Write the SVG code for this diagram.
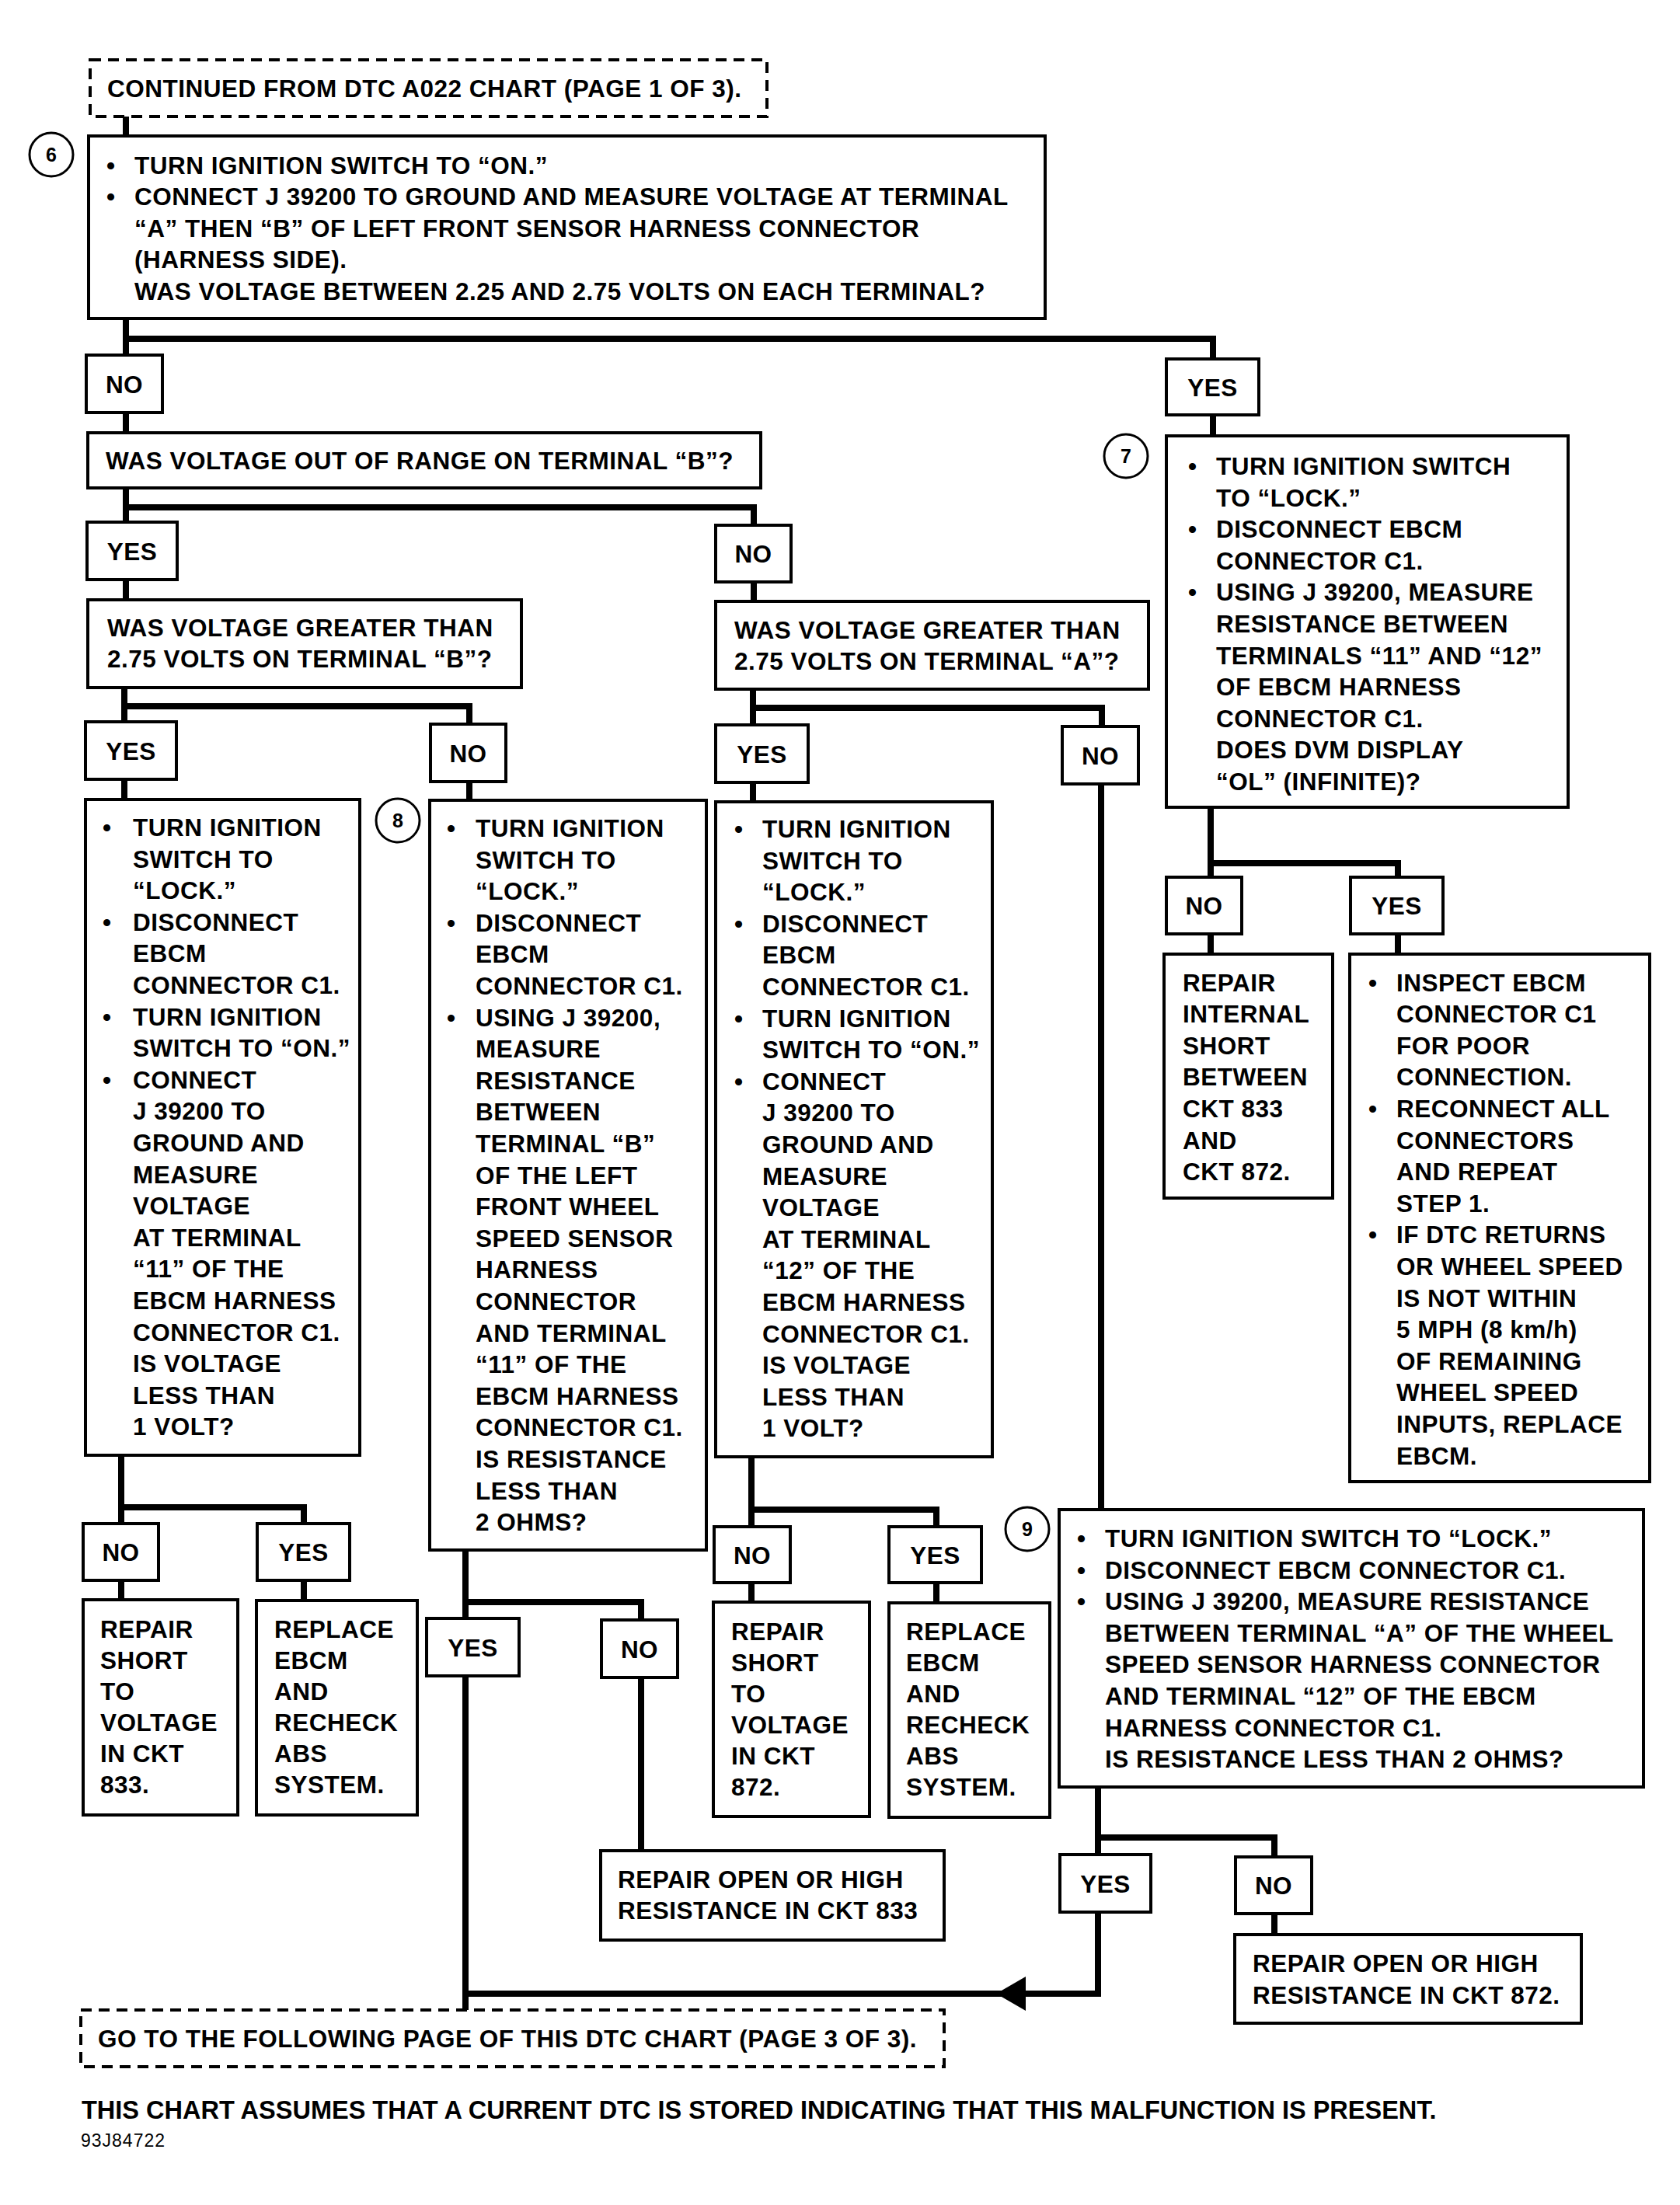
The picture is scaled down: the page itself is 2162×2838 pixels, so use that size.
<svg xmlns="http://www.w3.org/2000/svg" width="2162" height="2838" viewBox="0 0 2162 2838">
<defs>
<style>
.box{fill:#fff;stroke:#000;stroke-width:4}
.dash{fill:#fff;stroke:#000;stroke-width:4;stroke-dasharray:14 9}
.conn path{fill:none;stroke:#000;stroke-width:8;stroke-linejoin:miter}
text{font-family:"Liberation Sans",Arial,Helvetica,sans-serif;font-weight:bold;font-size:31.5px;letter-spacing:0.5px;fill:#000}
.lbl{text-anchor:middle}
.num{font-weight:bold;font-size:25px;letter-spacing:0;text-anchor:middle}
.circ{fill:#fff;stroke:#000;stroke-width:3}
.foot{font-size:32.5px;letter-spacing:0}
.small{font-weight:normal;font-size:23px;letter-spacing:1px}
</style>
<marker id="arr" markerUnits="userSpaceOnUse" markerWidth="40" markerHeight="44" refX="38" refY="22" orient="auto">
<path d="M0 0 L38 22 L0 44 Z" fill="#000"/>
</marker>
</defs>
<rect width="2162" height="2838" fill="#fff"/>

<g id="connectors" class="conn">
<path d="M162 150 V175"/>
<path d="M162 410 V456"/>
<path d="M162 436 H1561 V462"/>
<path d="M1561 534 V561"/>
<path d="M162 531 V557"/>
<path d="M162 628 V672"/>
<path d="M162 653 H970 V676"/>
<path d="M162 746 V772"/>
<path d="M970 749 V774"/>
<path d="M160 885 V929"/>
<path d="M160 909 H604 V932"/>
<path d="M160 1003 V1029"/>
<path d="M604 1006 V1030"/>
<path d="M969 887 V933"/>
<path d="M969 911 H1418 V935"/>
<path d="M969 1007 V1032"/>
<path d="M1417 1009 V1943"/>
<path d="M1558 1039 V1129"/>
<path d="M1558 1111 H1799 V1129"/>
<path d="M1558 1202 V1228"/>
<path d="M1799 1202 V1228"/>
<path d="M156 1873 V1961"/>
<path d="M156 1940 H391 V1961"/>
<path d="M156 2034 V2059"/>
<path d="M391 2034 V2060"/>
<path d="M599 1995 V2083"/>
<path d="M599 2062 H825 V2085"/>
<path d="M599 2157 V2587"/>
<path d="M825 2159 V2382"/>
<path d="M967 1875 V1965"/>
<path d="M967 1943 H1205 V1965"/>
<path d="M967 2037 V2062"/>
<path d="M1205 2037 V2063"/>
<path d="M1413 2300 V2387"/>
<path d="M1413 2365 H1640 V2390"/>
<path d="M1640 2463 V2490"/>
<path d="M1413 2461 V2566 H596"/>
<path d="M1413 2566 H1282" marker-end="url(#arr)"/>
</g>

<g id="start">
<rect class="dash" x="116" y="77" width="871" height="73"/>
<text x="138" y="125">CONTINUED FROM DTC A022 CHART (PAGE 1 OF 3).</text>
</g>

<g id="step6">
<circle class="circ" cx="66" cy="199" r="28"/>
<text class="num" x="66" y="208">6</text>
<rect class="box" x="114" y="175" width="1231" height="235"/>
<text x="137" y="223.5">•</text><text x="173" y="223.5">TURN IGNITION SWITCH TO “ON.”</text>
<text x="137" y="264">•</text><text x="173" y="264">CONNECT J 39200 TO GROUND AND MEASURE VOLTAGE AT TERMINAL</text>
<text x="173" y="304.5">“A” THEN “B” OF LEFT FRONT SENSOR HARNESS CONNECTOR</text>
<text x="173" y="345">(HARNESS SIDE).</text>
<text x="173" y="385.5">WAS VOLTAGE BETWEEN 2.25 AND 2.75 VOLTS ON EACH TERMINAL?</text>
</g>

<g id="no1"><rect class="box" x="111" y="457" width="98" height="74"/><text class="lbl" x="160" y="505.5">NO</text></g>
<g id="yes1"><rect class="box" x="1501" y="462" width="119" height="72"/><text class="lbl" x="1560.5" y="509.5">YES</text></g>

<g id="q_range">
<rect class="box" x="113" y="557" width="866" height="71"/>
<text x="136" y="604">WAS VOLTAGE OUT OF RANGE ON TERMINAL “B”?</text>
</g>

<g id="yes2"><rect class="box" x="112" y="672" width="116" height="74"/><text class="lbl" x="170" y="720.5">YES</text></g>
<g id="no2"><rect class="box" x="921" y="676" width="97" height="73"/><text class="lbl" x="969.5" y="724">NO</text></g>

<g id="q_b">
<rect class="box" x="113" y="772" width="558" height="113"/>
<text x="138" y="819">WAS VOLTAGE GREATER THAN</text>
<text x="138" y="859">2.75 VOLTS ON TERMINAL “B”?</text>
</g>

<g id="q_a">
<rect class="box" x="921" y="774" width="557" height="113"/>
<text x="945" y="822">WAS VOLTAGE GREATER THAN</text>
<text x="945" y="862">2.75 VOLTS ON TERMINAL “A”?</text>
</g>

<g id="step7">
<circle class="circ" cx="1449" cy="587" r="28"/>
<text class="num" x="1449" y="596">7</text>
<rect class="box" x="1501" y="561" width="517" height="478"/>
<text x="1529" y="611">•</text><text x="1565" y="611">TURN IGNITION SWITCH</text>
<text x="1565" y="651.6">TO “LOCK.”</text>
<text x="1529" y="692.2">•</text><text x="1565" y="692.2">DISCONNECT EBCM</text>
<text x="1565" y="732.8">CONNECTOR C1.</text>
<text x="1529" y="773.4">•</text><text x="1565" y="773.4">USING J 39200, MEASURE</text>
<text x="1565" y="814">RESISTANCE BETWEEN</text>
<text x="1565" y="854.6">TERMINALS “11” AND “12”</text>
<text x="1565" y="895.2">OF EBCM HARNESS</text>
<text x="1565" y="935.8">CONNECTOR C1.</text>
<text x="1565" y="976.4">DOES DVM DISPLAY</text>
<text x="1565" y="1017">“OL” (INFINITE)?</text>
</g>

<g id="yes3"><rect class="box" x="110" y="929" width="117" height="74"/><text class="lbl" x="168.5" y="977.5">YES</text></g>
<g id="no3"><rect class="box" x="554" y="932" width="97" height="74"/><text class="lbl" x="602.5" y="980.5">NO</text></g>
<g id="yes4"><rect class="box" x="921" y="933" width="119" height="74"/><text class="lbl" x="980.5" y="981.5">YES</text></g>
<g id="no4"><rect class="box" x="1367" y="935" width="98" height="74"/><text class="lbl" x="1416" y="983.5">NO</text></g>

<g id="check_b_short">
<rect class="box" x="110" y="1029" width="353" height="844"/>
<text x="132" y="1076">•</text><text x="171" y="1076">TURN IGNITION</text>
<text x="171" y="1116.6">SWITCH TO</text>
<text x="171" y="1157.2">“LOCK.”</text>
<text x="132" y="1197.8">•</text><text x="171" y="1197.8">DISCONNECT</text>
<text x="171" y="1238.4">EBCM</text>
<text x="171" y="1279">CONNECTOR C1.</text>
<text x="132" y="1319.6">•</text><text x="171" y="1319.6">TURN IGNITION</text>
<text x="171" y="1360.2">SWITCH TO “ON.”</text>
<text x="132" y="1400.8">•</text><text x="171" y="1400.8">CONNECT</text>
<text x="171" y="1441.4">J 39200 TO</text>
<text x="171" y="1482">GROUND AND</text>
<text x="171" y="1522.6">MEASURE</text>
<text x="171" y="1563.2">VOLTAGE</text>
<text x="171" y="1603.8">AT TERMINAL</text>
<text x="171" y="1644.4">“11” OF THE</text>
<text x="171" y="1685">EBCM HARNESS</text>
<text x="171" y="1725.6">CONNECTOR C1.</text>
<text x="171" y="1766.2">IS VOLTAGE</text>
<text x="171" y="1806.8">LESS THAN</text>
<text x="171" y="1847.4">1 VOLT?</text>
</g>

<g id="step8">
<circle class="circ" cx="512" cy="1056" r="28"/>
<text class="num" x="512" y="1065">8</text>
<rect class="box" x="553" y="1030" width="356" height="965"/>
<text x="575" y="1077">•</text><text x="612" y="1077">TURN IGNITION</text>
<text x="612" y="1117.6">SWITCH TO</text>
<text x="612" y="1158.2">“LOCK.”</text>
<text x="575" y="1198.8">•</text><text x="612" y="1198.8">DISCONNECT</text>
<text x="612" y="1239.4">EBCM</text>
<text x="612" y="1280">CONNECTOR C1.</text>
<text x="575" y="1320.6">•</text><text x="612" y="1320.6">USING J 39200,</text>
<text x="612" y="1361.2">MEASURE</text>
<text x="612" y="1401.8">RESISTANCE</text>
<text x="612" y="1442.4">BETWEEN</text>
<text x="612" y="1483">TERMINAL “B”</text>
<text x="612" y="1523.6">OF THE LEFT</text>
<text x="612" y="1564.2">FRONT WHEEL</text>
<text x="612" y="1604.8">SPEED SENSOR</text>
<text x="612" y="1645.4">HARNESS</text>
<text x="612" y="1686">CONNECTOR</text>
<text x="612" y="1726.6">AND TERMINAL</text>
<text x="612" y="1767.2">“11” OF THE</text>
<text x="612" y="1807.8">EBCM HARNESS</text>
<text x="612" y="1848.4">CONNECTOR C1.</text>
<text x="612" y="1889">IS RESISTANCE</text>
<text x="612" y="1929.6">LESS THAN</text>
<text x="612" y="1970.2">2 OHMS?</text>
</g>

<g id="check_a_short">
<rect class="box" x="921" y="1032" width="356" height="843"/>
<text x="945" y="1078">•</text><text x="981" y="1078">TURN IGNITION</text>
<text x="981" y="1118.6">SWITCH TO</text>
<text x="981" y="1159.2">“LOCK.”</text>
<text x="945" y="1199.8">•</text><text x="981" y="1199.8">DISCONNECT</text>
<text x="981" y="1240.4">EBCM</text>
<text x="981" y="1281">CONNECTOR C1.</text>
<text x="945" y="1321.6">•</text><text x="981" y="1321.6">TURN IGNITION</text>
<text x="981" y="1362.2">SWITCH TO “ON.”</text>
<text x="945" y="1402.8">•</text><text x="981" y="1402.8">CONNECT</text>
<text x="981" y="1443.4">J 39200 TO</text>
<text x="981" y="1484">GROUND AND</text>
<text x="981" y="1524.6">MEASURE</text>
<text x="981" y="1565.2">VOLTAGE</text>
<text x="981" y="1605.8">AT TERMINAL</text>
<text x="981" y="1646.4">“12” OF THE</text>
<text x="981" y="1687">EBCM HARNESS</text>
<text x="981" y="1727.6">CONNECTOR C1.</text>
<text x="981" y="1768.2">IS VOLTAGE</text>
<text x="981" y="1808.8">LESS THAN</text>
<text x="981" y="1849.4">1 VOLT?</text>
</g>

<g id="no5"><rect class="box" x="1501" y="1129" width="97" height="73"/><text class="lbl" x="1549.5" y="1177">NO</text></g>
<g id="yes5"><rect class="box" x="1738" y="1129" width="119" height="73"/><text class="lbl" x="1797.5" y="1177">YES</text></g>

<g id="repair_internal">
<rect class="box" x="1498" y="1228" width="217" height="314"/>
<text x="1522" y="1275.5">REPAIR</text>
<text x="1522" y="1316.1">INTERNAL</text>
<text x="1522" y="1356.7">SHORT</text>
<text x="1522" y="1397.3">BETWEEN</text>
<text x="1522" y="1437.9">CKT 833</text>
<text x="1522" y="1478.5">AND</text>
<text x="1522" y="1519.1">CKT 872.</text>
</g>

<g id="inspect">
<rect class="box" x="1737" y="1228" width="386" height="679"/>
<text x="1761" y="1275.5">•</text><text x="1797" y="1275.5">INSPECT EBCM</text>
<text x="1797" y="1316.1">CONNECTOR C1</text>
<text x="1797" y="1356.7">FOR POOR</text>
<text x="1797" y="1397.3">CONNECTION.</text>
<text x="1761" y="1437.9">•</text><text x="1797" y="1437.9">RECONNECT ALL</text>
<text x="1797" y="1478.5">CONNECTORS</text>
<text x="1797" y="1519.1">AND REPEAT</text>
<text x="1797" y="1559.7">STEP 1.</text>
<text x="1761" y="1600.3">•</text><text x="1797" y="1600.3">IF DTC RETURNS</text>
<text x="1797" y="1640.9">OR WHEEL SPEED</text>
<text x="1797" y="1681.5">IS NOT WITHIN</text>
<text x="1797" y="1722.1">5 MPH (8 km/h)</text>
<text x="1797" y="1762.7">OF REMAINING</text>
<text x="1797" y="1803.3">WHEEL SPEED</text>
<text x="1797" y="1843.9">INPUTS, REPLACE</text>
<text x="1797" y="1884.5">EBCM.</text>
</g>

<g id="no6"><rect class="box" x="107" y="1961" width="97" height="73"/><text class="lbl" x="155.5" y="2009">NO</text></g>
<g id="yes6"><rect class="box" x="331" y="1961" width="119" height="73"/><text class="lbl" x="390.5" y="2009">YES</text></g>

<g id="repair_833_short">
<rect class="box" x="107" y="2059" width="199" height="277"/>
<text x="129" y="2108">REPAIR</text>
<text x="129" y="2148">SHORT</text>
<text x="129" y="2188">TO</text>
<text x="129" y="2228">VOLTAGE</text>
<text x="129" y="2268">IN CKT</text>
<text x="129" y="2308">833.</text>
</g>

<g id="replace_1">
<rect class="box" x="330" y="2060" width="207" height="276"/>
<text x="353" y="2108">REPLACE</text>
<text x="353" y="2148">EBCM</text>
<text x="353" y="2188">AND</text>
<text x="353" y="2228">RECHECK</text>
<text x="353" y="2268">ABS</text>
<text x="353" y="2308">SYSTEM.</text>
</g>

<g id="yes7"><rect class="box" x="549" y="2083" width="119" height="74"/><text class="lbl" x="608.5" y="2131.5">YES</text></g>
<g id="no7"><rect class="box" x="774" y="2085" width="98" height="74"/><text class="lbl" x="823" y="2133.5">NO</text></g>

<g id="no8"><rect class="box" x="919" y="1965" width="98" height="72"/><text class="lbl" x="968" y="2012.5">NO</text></g>
<g id="yes8"><rect class="box" x="1144" y="1965" width="119" height="72"/><text class="lbl" x="1203.5" y="2012.5">YES</text></g>

<g id="repair_872_short">
<rect class="box" x="918" y="2062" width="201" height="276"/>
<text x="941" y="2111">REPAIR</text>
<text x="941" y="2151">SHORT</text>
<text x="941" y="2191">TO</text>
<text x="941" y="2231">VOLTAGE</text>
<text x="941" y="2271">IN CKT</text>
<text x="941" y="2311">872.</text>
</g>

<g id="replace_2">
<rect class="box" x="1144" y="2063" width="207" height="276"/>
<text x="1166" y="2111">REPLACE</text>
<text x="1166" y="2151">EBCM</text>
<text x="1166" y="2191">AND</text>
<text x="1166" y="2231">RECHECK</text>
<text x="1166" y="2271">ABS</text>
<text x="1166" y="2311">SYSTEM.</text>
</g>

<g id="step9">
<circle class="circ" cx="1322" cy="1968" r="28"/>
<text class="num" x="1322" y="1977">9</text>
<rect class="box" x="1363" y="1943" width="752" height="357"/>
<text x="1386" y="1991">•</text><text x="1422" y="1991">TURN IGNITION SWITCH TO “LOCK.”</text>
<text x="1386" y="2031.6">•</text><text x="1422" y="2031.6">DISCONNECT EBCM CONNECTOR C1.</text>
<text x="1386" y="2072.2">•</text><text x="1422" y="2072.2">USING J 39200, MEASURE RESISTANCE</text>
<text x="1422" y="2112.8">BETWEEN TERMINAL “A” OF THE WHEEL</text>
<text x="1422" y="2153.4">SPEED SENSOR HARNESS CONNECTOR</text>
<text x="1422" y="2194">AND TERMINAL “12” OF THE EBCM</text>
<text x="1422" y="2234.6">HARNESS CONNECTOR C1.</text>
<text x="1422" y="2275.2">IS RESISTANCE LESS THAN 2 OHMS?</text>
</g>

<g id="repair_833_open">
<rect class="box" x="773" y="2382" width="442" height="115"/>
<text x="795" y="2430">REPAIR OPEN OR HIGH</text>
<text x="795" y="2470">RESISTANCE IN CKT 833</text>
</g>

<g id="yes9"><rect class="box" x="1364" y="2387" width="117" height="74"/><text class="lbl" x="1422.5" y="2435.5">YES</text></g>
<g id="no9"><rect class="box" x="1590" y="2390" width="98" height="73"/><text class="lbl" x="1639" y="2438">NO</text></g>

<g id="repair_872_open">
<rect class="box" x="1589" y="2490" width="446" height="114"/>
<text x="1612" y="2538">REPAIR OPEN OR HIGH</text>
<text x="1612" y="2579">RESISTANCE IN CKT 872.</text>
</g>

<g id="end">
<rect class="dash" x="104" y="2587" width="1111" height="73"/>
<text x="126" y="2635">GO TO THE FOLLOWING PAGE OF THIS DTC CHART (PAGE 3 OF 3).</text>
</g>

<g id="footer">
<text class="foot" x="105" y="2727">THIS CHART ASSUMES THAT A CURRENT DTC IS STORED INDICATING THAT THIS MALFUNCTION IS PRESENT.</text>
<text class="small" x="104" y="2763">93J84722</text>
</g>
</svg>
